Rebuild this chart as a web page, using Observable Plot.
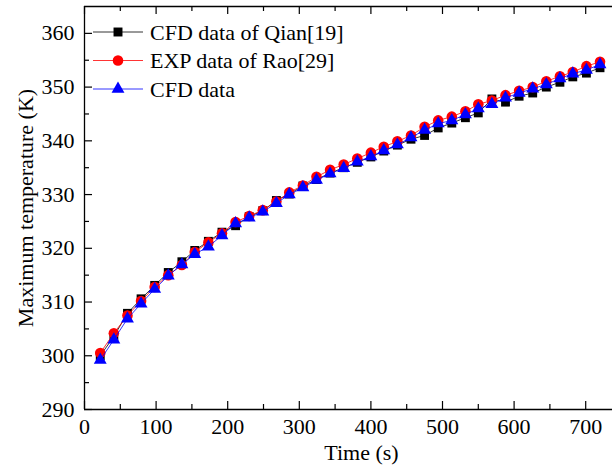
<!DOCTYPE html>
<html>
<head>
<meta charset="utf-8">
<script src="https://cdn.jsdelivr.net/npm/d3@7"></script>
<script src="https://cdn.jsdelivr.net/npm/@observablehq/plot@0.6"></script>
<style>
  html, body { margin: 0; padding: 0; background: #fff; }
  #wrap { position: relative; width: 612px; height: 466px; overflow: hidden; font-family: "Liberation Serif", serif; }
  #wrap svg, #wrap svg text, #wrap svg g { font-family: "Liberation Serif", "Times New Roman", serif !important; }
  #legend { position: absolute; left: 0; top: 0; }
</style>
</head>
<body>
<div id="wrap"></div>
<script>
// Time (s)
const times = [22, 41, 60, 79, 98, 117, 136, 154, 173, 192, 211, 230, 249, 268, 286, 305, 324, 343, 362, 381,
               400, 418, 437, 456, 475, 494, 513, 532, 550, 569, 588, 607, 626, 645, 664, 682, 701, 720];
// CFD data of Qian[19]
const qian = [300.0, 303.6, 307.9, 310.6, 313.1, 315.5, 317.5, 319.6, 321.3, 323.0, 324.2, 325.9, 327.0, 328.9,
              330.1, 331.6, 332.8, 334.0, 335.0, 336.0, 337.0, 338.1, 339.2, 340.3, 341.0, 342.4, 343.3, 344.3,
              345.2, 347.8, 347.2, 348.3, 348.9, 350.0, 350.9, 351.9, 352.6, 353.6];
// EXP data of Rao[29]
const rao = [300.5, 304.2, 307.5, 310.2, 312.8, 315.0, 316.9, 319.3, 321.1, 322.8, 324.9, 326.0, 327.1, 328.7,
             330.4, 331.7, 333.3, 334.6, 335.6, 336.7, 337.8, 338.9, 339.9, 341.0, 342.6, 343.8, 344.5, 345.5,
             346.8, 347.5, 348.5, 349.3, 350.0, 351.1, 352.0, 352.8, 353.9, 354.7];
// CFD data
const cfd = [299.2, 303.0, 306.9, 309.7, 312.4, 314.9, 317.0, 318.9, 320.3, 322.4, 324.6, 325.7, 326.8, 328.4,
             330.0, 331.3, 332.7, 333.9, 334.9, 336.1, 337.1, 338.2, 339.3, 340.6, 342.0, 343.2, 343.8, 344.9,
             346.0, 346.8, 348.0, 348.9, 349.7, 350.5, 351.6, 352.5, 353.2, 354.2];

const seriesNames = ["CFD data of Qian[19]", "EXP data of Rao[29]", "CFD data"];
const xTickLabels = [0, 100, 200, 300, 400, 500, 600, 700];
const xMinorTicks = [50, 150, 250, 350, 450, 550, 650, 750];
const yTickLabels = [290, 300, 310, 320, 330, 340, 350, 360];
const yMinorTicks = [295, 305, 315, 325, 335, 345, 355];

const rows = (vals) => times.map((t, i) => ({t, v: vals[i]}));
const qianRows = rows(qian), raoRows = rows(rao), cfdRows = rows(cfd);

const W = 612, H = 466, mL = 84, mR = 0, mT = 6, mB = 57;
const plotH = H - mT - mB, plotW = W - mL - mR;
const font = "Liberation Serif";
const majorLen = 8, minorLen = 5;
const txt = {fontSize: 22, fill: "#000", fontFamily: font};

const chart = Plot.plot({
  width: W, height: H,
  marginLeft: mL, marginRight: mR, marginTop: mT, marginBottom: mB,
  style: {fontFamily: font, background: "#fff"},
  x: {domain: [0, 750], range: [84, 621], axis: null},
  y: {domain: [290, 365], range: [409, 6], axis: null},
  marks: [
    // frame lines
    Plot.ruleX([0], {stroke: "#000", strokeWidth: 1.3}),
    Plot.ruleY([290], {stroke: "#000", strokeWidth: 1.3}),
    Plot.ruleY([365], {stroke: "#000", strokeWidth: 1.3}),
    // bottom ticks (inward)
    Plot.ruleX(xTickLabels, {x: d => d, insetTop: plotH - majorLen, stroke: "#000", strokeWidth: 1.2}),
    Plot.ruleX(xMinorTicks, {x: d => d, insetTop: plotH - minorLen, stroke: "#000", strokeWidth: 1.2}),
    // top ticks (inward)
    Plot.ruleX(xTickLabels, {x: d => d, insetBottom: plotH - majorLen, stroke: "#000", strokeWidth: 1.2}),
    Plot.ruleX(xMinorTicks, {x: d => d, insetBottom: plotH - minorLen, stroke: "#000", strokeWidth: 1.2}),
    // left ticks (inward)
    Plot.ruleY(yTickLabels, {y: d => d, insetRight: plotW - majorLen, stroke: "#000", strokeWidth: 1.2}),
    Plot.ruleY(yMinorTicks, {y: d => d, insetRight: plotW - minorLen, stroke: "#000", strokeWidth: 1.2}),
    // tick labels
    Plot.text(xTickLabels, {x: d => d, y: 290, dy: 17, text: d => String(d), lineAnchor: "middle", ...txt}),
    Plot.text(yTickLabels, {y: d => d, x: 0, dx: -10, text: d => String(d), textAnchor: "end", ...txt}),
    // axis titles
    Plot.text(["Time (s)"], {frameAnchor: "bottom", dx: 13, dy: 43, textAnchor: "middle", lineAnchor: "middle", ...txt}),
    Plot.text(["Maximum temperature (K)"], {frameAnchor: "left", dx: -59, rotate: -90, textAnchor: "middle", lineAnchor: "middle", ...txt}),
    // series
    Plot.line(qianRows, {x: "t", y: "v", stroke: "#000", strokeWidth: 0.8}),
    Plot.dot(qianRows, {x: "t", y: "v", symbol: "square", r: 5, fill: "#000", stroke: "none"}),
    Plot.line(raoRows, {x: "t", y: "v", stroke: "#ff0000", strokeWidth: 0.8}),
    Plot.dot(raoRows, {x: "t", y: "v", symbol: "circle", r: 5.3, fill: "#ff0000", stroke: "none"}),
    Plot.line(cfdRows, {x: "t", y: "v", stroke: "#0000ff", strokeWidth: 0.8}),
    Plot.dot(cfdRows, {x: "t", y: "v", symbol: "triangle", r: 4.8, fill: "#0000ff", stroke: "none"})
  ]
});

d3.select(chart).selectAll("text, tspan")
  .attr("font-family", font)
  .style("font-family", font);

const wrap = document.getElementById("wrap");
wrap.appendChild(chart);

// legend overlay (inside the plot, top-left)
const legendItems = [
  {name: seriesNames[0], color: "#000", symbol: d3.symbolSquare, size: 80},
  {name: seriesNames[1], color: "#ff0000", symbol: d3.symbolCircle, size: 88},
  {name: seriesNames[2], color: "#0000ff", symbol: d3.symbolTriangle, size: 72}
];
const lg = d3.select(wrap).append("svg")
  .attr("id", "legend").attr("width", W).attr("height", 110);
legendItems.forEach((it, i) => {
  const cy = 32 + i * 28.5;
  const g = lg.append("g");
  g.append("line").attr("x1", 93).attr("x2", 143).attr("y1", cy).attr("y2", cy)
    .attr("stroke", it.color).attr("stroke-width", 0.8);
  g.append("path").attr("d", d3.symbol(it.symbol, it.size)()).attr("transform", `translate(118,${cy})`)
    .attr("fill", it.color);
  g.append("text").attr("x", 150).attr("y", cy).attr("dy", "0.35em")
    .attr("font-size", 22).attr("font-family", font)
    .attr("fill", "#000").text(it.name);
});
</script>
</body>
</html>
